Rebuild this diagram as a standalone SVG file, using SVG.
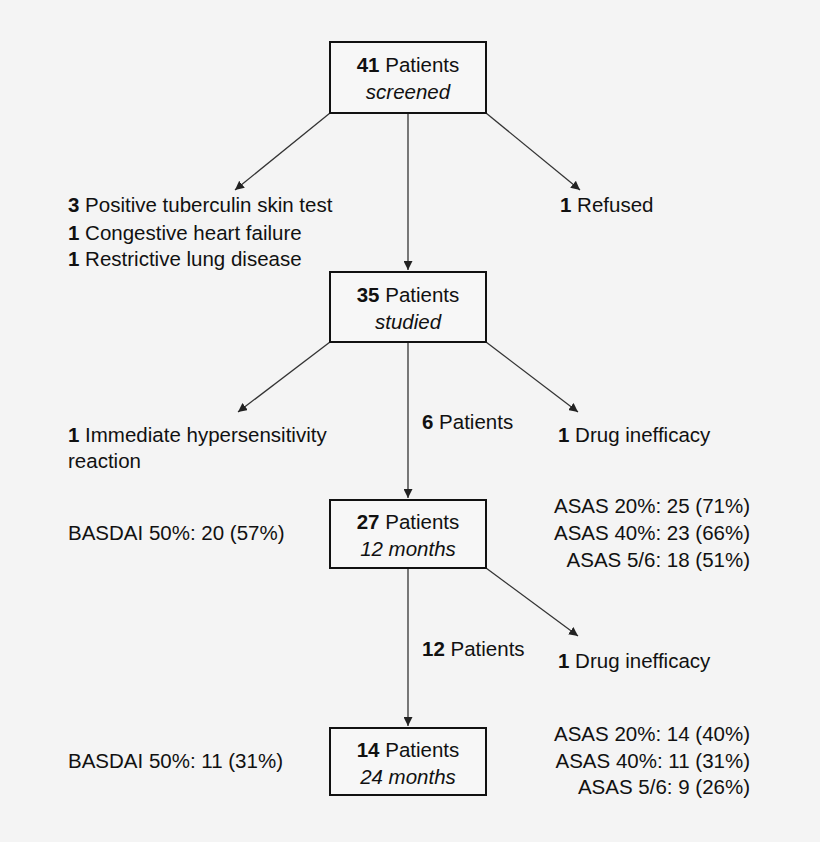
<svg xmlns="http://www.w3.org/2000/svg" width="820" height="842" viewBox="0 0 820 842">
<style>
text{font-family:"Liberation Sans",Arial,sans-serif;font-size:20.5px;fill:#111}
.c{text-anchor:middle}.r{text-anchor:end}.b{font-weight:bold}.i{font-style:italic}
.box{fill:#f7f7f7;stroke:#111;stroke-width:2}
.ln{stroke:#333;stroke-width:1.3;fill:none;marker-end:url(#ah)}
</style>
<defs><marker id="ah" viewBox="0 0 10 10" refX="10" refY="5" markerWidth="9" markerHeight="9" orient="auto" markerUnits="userSpaceOnUse"><path d="M0,0 L10,5 L0,10 z" fill="#222"/></marker></defs>
<rect width="820" height="842" fill="#f4f4f4"/>
<g id="connectors">
<line class="ln" x1="330" y1="113" x2="235" y2="190"/>
<line class="ln" x1="408" y1="113" x2="408" y2="270"/>
<line class="ln" x1="486" y1="113" x2="580" y2="190"/>
<line class="ln" x1="330" y1="342" x2="238" y2="412"/>
<line class="ln" x1="408" y1="342" x2="408" y2="498"/>
<line class="ln" x1="486" y1="342" x2="578" y2="412"/>
<line class="ln" x1="408" y1="568" x2="408" y2="726"/>
<line class="ln" x1="486" y1="568" x2="578" y2="636"/>
</g>
<g id="n1"><rect class="box" x="330" y="42" width="156" height="71"/><text class="c" x="408" y="72"><tspan class="b">41</tspan> Patients</text><text class="c i" x="408" y="99">screened</text></g>
<g id="excl1"><text x="68" y="212"><tspan class="b">3</tspan> Positive tuberculin skin test</text><text x="68" y="240"><tspan class="b">1</tspan> Congestive heart failure</text><text x="68" y="266"><tspan class="b">1</tspan> Restrictive lung disease</text></g>
<g id="ref"><text x="560" y="212"><tspan class="b">1</tspan> Refused</text></g>
<g id="n2"><rect class="box" x="330" y="272" width="156" height="70"/><text class="c" x="408" y="302"><tspan class="b">35</tspan> Patients</text><text class="c i" x="408" y="329">studied</text></g>
<g id="excl2"><text x="68" y="442"><tspan class="b">1</tspan> Immediate hypersensitivity</text><text x="68" y="468">reaction</text></g>
<g id="w1"><text x="422" y="429"><tspan class="b">6</tspan> Patients</text></g>
<g id="d1"><text x="558" y="442"><tspan class="b">1</tspan> Drug inefficacy</text></g>
<g id="n3"><rect class="box" x="330" y="500" width="156" height="68"/><text class="c" x="408" y="529"><tspan class="b">27</tspan> Patients</text><text class="c i" x="408" y="556">12 months</text></g>
<g id="s3l"><text x="68" y="540">BASDAI 50%: 20 (57%)</text></g>
<g id="s3r"><text class="r" x="750" y="513">ASAS 20%: 25 (71%)</text><text class="r" x="750" y="540">ASAS 40%: 23 (66%)</text><text class="r" x="750" y="567">ASAS 5/6: 18 (51%)</text></g>
<g id="w2"><text x="422" y="656"><tspan class="b">12</tspan> Patients</text></g>
<g id="d2"><text x="558" y="668"><tspan class="b">1</tspan> Drug inefficacy</text></g>
<g id="n4"><rect class="box" x="330" y="728" width="156" height="67"/><text class="c" x="408" y="757"><tspan class="b">14</tspan> Patients</text><text class="c i" x="408" y="784">24 months</text></g>
<g id="s4l"><text x="68" y="768">BASDAI 50%: 11 (31%)</text></g>
<g id="s4r"><text class="r" x="750" y="741">ASAS 20%: 14 (40%)</text><text class="r" x="750" y="768">ASAS 40%: 11 (31%)</text><text class="r" x="750" y="794">ASAS 5/6: 9 (26%)</text></g>
</svg>
